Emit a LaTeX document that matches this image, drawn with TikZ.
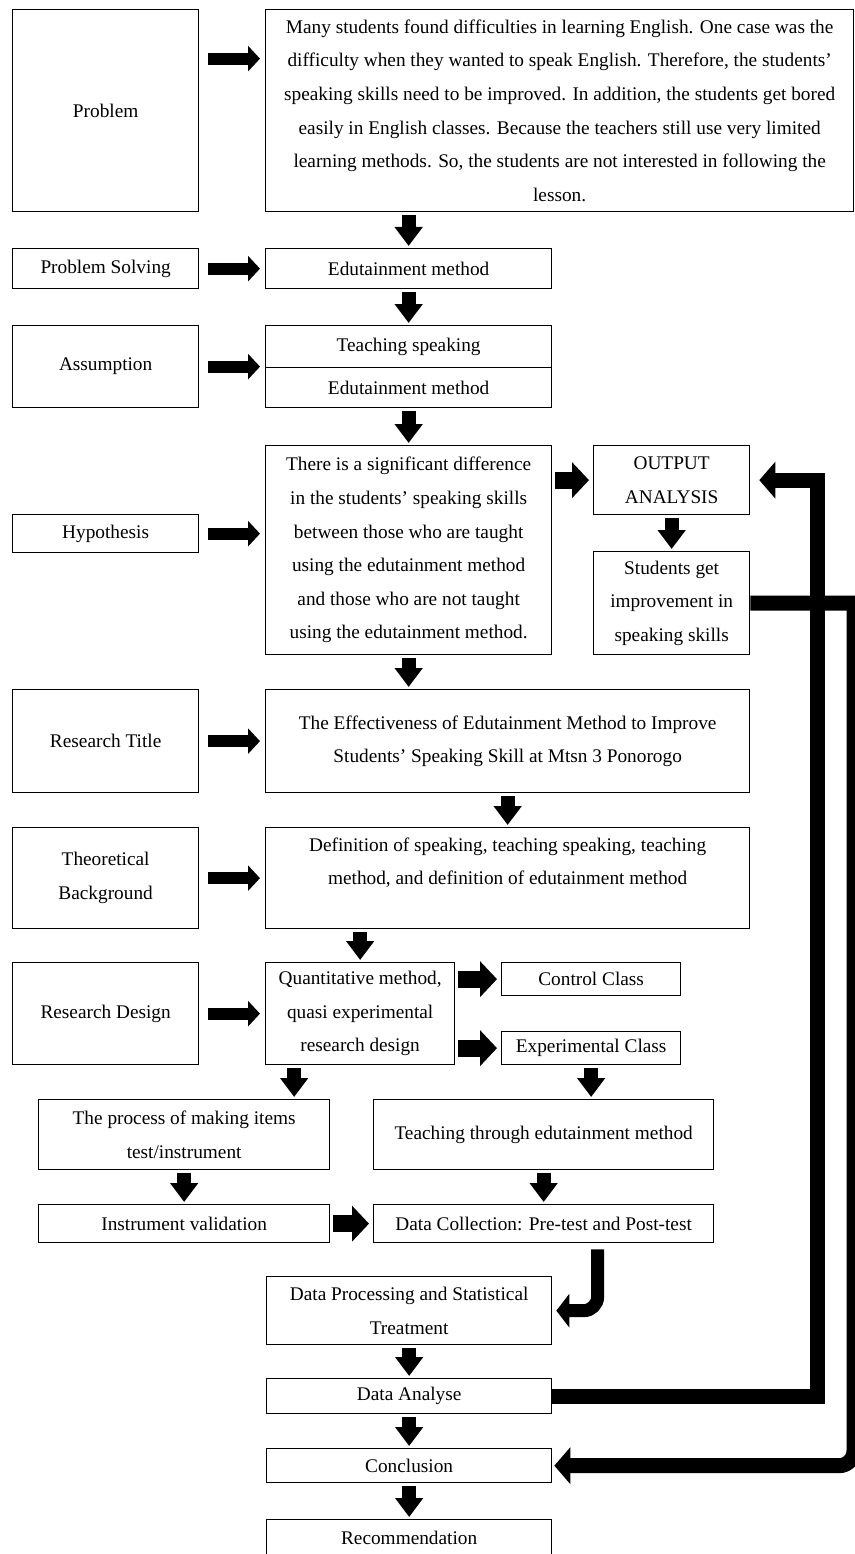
\documentclass[tikz,border=0pt]{standalone}
\usepackage{fontspec}
\setmainfont{Liberation Serif}
\usepackage{tikz}
\usetikzlibrary{shapes}
\usetikzlibrary{arrows.meta}
\begin{document}
\begin{tikzpicture}[x=1pt,y=-1pt,
			box/.style={rectangle,draw,line width=1.3pt,inner sep=2pt,anchor=north west,align=center,font=\fontsize{19.3}{33.6}\selectfont},
			harrow/.style={line width=12pt,-{Triangle[width=25pt,length=12pt]},shorten <=9pt,shorten >=5pt},
			varrow/.style={line width=14pt,-{Triangle[width=27pt,length=19pt]},shorten <=3pt,shorten >=2pt},
			warrow/.style={line width=17pt,-{Triangle[width=35pt,length=17pt]},shorten <=3pt,shorten >=4pt},
			backline/.style={line width=15pt,-{Triangle[width=36pt,length=16pt]}}
			]
			\useasboundingbox (0,0) rectangle (854,1554);
			\node[box,minimum width=186pt,minimum height=202pt](problem) at (12,9) {Problem};
			\node[box,minimum width=588pt,minimum height=202pt](ptext) at (265,9) {Many students found difficulties in learning English. One case was the\\difficulty when they wanted to speak English. Therefore, the students'\\speaking skills need to be improved. In addition, the students get bored\\easily in English classes. Because the teachers still use very limited\\learning methods. So, the students are not interested in following the\\lesson.};
			\node[box,minimum width=186pt,minimum height=40pt](ps) at (12,248) {Problem Solving};
			\node[box,minimum width=286pt,minimum height=40pt](edu) at (265,248) {Edutainment method};
			\node[box,minimum width=186pt,minimum height=82pt](assump) at (12,325) {Assumption};
			\node[box,minimum width=286pt,minimum height=42pt](teachA) at (265,325) {Teaching speaking};
			\node[box,minimum width=286pt,minimum height=40pt](teachB) at (265,367) {Edutainment method};
			\node[box,minimum width=186pt,minimum height=38pt](hyp) at (12,514) {Hypothesis};
			\node[box,minimum width=286pt,minimum height=209pt](hyptext) at (265,445) {There is a significant difference\\in the students' speaking skills\\between those who are taught\\using the edutainment method\\and those who are not taught\\using the edutainment method.};
			\node[box,minimum width=156pt,minimum height=69pt](outp) at (593,445) {OUTPUT\\ANALYSIS};
			\node[box,minimum width=156pt,minimum height=103pt](stu) at (593,551) {Students get\\improvement in\\speaking skills};
			\node[box,minimum width=186pt,minimum height=103pt](rtitle) at (12,689) {Research Title};
			\node[box,minimum width=484pt,minimum height=103pt](ttext) at (265,689) {The Effectiveness of Edutainment Method to Improve\\Students' Speaking Skill at Mtsn 3 Ponorogo};
			\node[box,minimum width=186pt,minimum height=101pt](theo) at (12,827) {Theoretical\\Background};
			\node[box,minimum width=484pt,minimum height=101pt](def) at (265,827) {Definition of speaking, teaching speaking, teaching\\method, and definition of edutainment method\\\mbox{}};
			\node[box,minimum width=186pt,minimum height=102pt](rdesign) at (12,962) {Research Design};
			\node[box,minimum width=189pt,minimum height=102pt](quant) at (265,962) {Quantitative method,\\quasi experimental\\research design};
			\node[box,minimum width=179pt,minimum height=33pt](control) at (501,962) {Control Class};
			\node[box,minimum width=179pt,minimum height=33pt](exp) at (501,1031) {Experimental Class};
			\node[box,minimum width=291pt,minimum height=70pt](process) at (38,1099) {The process of making items\\test/instrument};
			\node[box,minimum width=340pt,minimum height=70pt](teachthr) at (373,1099) {Teaching through edutainment method};
			\node[box,minimum width=291pt,minimum height=38pt](iv) at (38,1204) {Instrument validation};
			\node[box,minimum width=340pt,minimum height=38pt](dc) at (373,1204) {Data Collection: Pre-test and Post-test};
			\node[box,minimum width=285pt,minimum height=68pt](dp) at (266,1276) {Data Processing and Statistical\\Treatment};
			\node[box,minimum width=285pt,minimum height=35pt](da) at (266,1378) {Data Analyse};
			\node[box,minimum width=285pt,minimum height=34pt](concl) at (266,1448) {Conclusion};
			\node[box,minimum width=285pt,minimum height=37pt](rec) at (266,1519) {Recommendation};
			\coordinate (rim) at (854,0);
			\coordinate (col) at (817,0);
			\draw[harrow] ([yshift=52pt]problem.east) -- ([yshift=52pt]problem.east -| ptext.west);
			\draw[harrow] (ps.east) -- (edu.west);
			\draw[harrow] (assump.east) -- (assump.east -| teachA.west);
			\draw[harrow] (hyp.east) -- (hyp.east -| hyptext.west);
			\draw[harrow] (rtitle.east) -- (ttext.west);
			\draw[harrow] (theo.east) -- (def.west);
			\draw[harrow] (rdesign.east) -- (quant.west);
			\draw[warrow] (outp.west -| hyptext.east) -- (outp.west);
			\draw[warrow] (control.west -| quant.east) -- (control.west);
			\draw[warrow] (exp.west -| quant.east) -- (exp.west);
			\draw[warrow] (iv.east) -- (dc.west);
			\draw[varrow] (edu.north |- ptext.south) -- (edu.north);
			\draw[varrow] (edu.south) -- (teachA.north);
			\draw[varrow] (teachB.south) -- (hyptext.north);
			\draw[varrow] (outp.south) -- (stu.north);
			\draw[varrow] (hyptext.south) -- (hyptext.south |- ttext.north);
			\draw[varrow] (ttext.south) -- (def.north);
			\draw[varrow] (quant.north |- def.south) -- (quant.north);
			\draw[varrow] ([xshift=-66pt]quant.south) -- ([xshift=-66pt]quant.south |- process.north);
			\draw[varrow] (exp.south) -- (exp.south |- teachthr.north);
			\draw[varrow] (process.south) -- (iv.north);
			\draw[varrow] (teachthr.south) -- (dc.north);
			\draw[varrow] (dp.south) -- (da.north);
			\draw[varrow] (da.south) -- (concl.north);
			\draw[varrow] (concl.south) -- (rec.north);
			\draw[line width=13pt,-{Triangle[width=33pt,length=13pt]},rounded corners=14pt,shorten <=6pt,shorten >=4pt] ([xshift=54pt]dc.south) |- (dp.east);
			\draw[backline,shorten >=9pt] (da.east) -| (col |- outp.east) -- (outp.east);
			\draw[backline,shorten >=2pt] (stu.east) -- ([xshift=8pt]stu.east -| rim) -- (rim |- stu.east) [rounded corners=15pt] |- (concl.east);
\end{tikzpicture}
\end{document}
